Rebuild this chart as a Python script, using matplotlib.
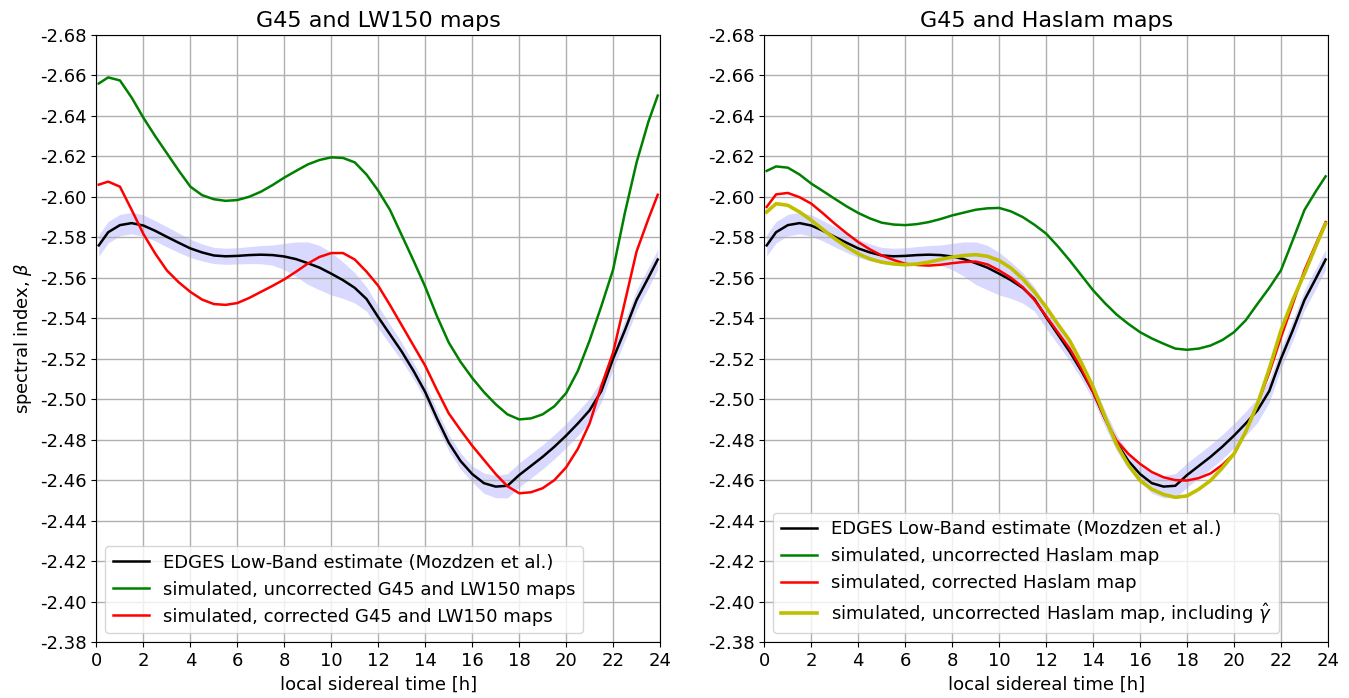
import matplotlib
matplotlib.use("Agg")
import matplotlib.pyplot as plt
import numpy as np

plt.rcParams['axes.unicode_minus'] = False
plt.rcParams['font.size'] = 13

# local sidereal time [h]
lst = [0.1, 0.5, 1, 1.5, 2, 2.5, 3, 3.5, 4, 4.5, 5, 5.5, 6, 6.5, 7, 7.5, 8, 8.5, 9, 9.5,
       10, 10.5, 11, 11.5, 12, 12.5, 13, 13.5, 14, 14.5, 15, 15.5, 16, 16.5, 17, 17.5, 18, 18.5,
       19, 19.5, 20, 20.5, 21, 21.5, 22, 22.5, 23, 23.5, 23.9]

# EDGES Low-Band estimate (Mozdzen et al.) and its uncertainty
edges = [-2.5760, -2.5825, -2.5860, -2.5870, -2.5858, -2.5832, -2.5802, -2.5773, -2.5745, -2.5725,
         -2.5710, -2.5706, -2.5708, -2.5712, -2.5714, -2.5712, -2.5705, -2.5692, -2.5672, -2.5650,
         -2.5620, -2.5588, -2.5550, -2.5495, -2.5405, -2.5320, -2.5235, -2.5140, -2.5035, -2.4905,
         -2.4785, -2.4695, -2.4630, -2.4585, -2.4568, -2.4572, -2.4625, -2.4670, -2.4715, -2.4765,
         -2.4820, -2.4880, -2.4945, -2.5040, -2.5200, -2.5340, -2.5490, -2.5600, -2.5690]
edges_err = [0.0053, 0.0053, 0.0053, 0.0053, 0.0053, 0.0050, 0.0050, 0.0048, 0.0045, 0.0042,
             0.0040, 0.0040, 0.0040, 0.0042, 0.0045, 0.0050, 0.0065, 0.0085, 0.0105, 0.0110,
             0.0105, 0.0090, 0.0075, 0.0060, 0.0055, 0.0050, 0.0045, 0.0040, 0.0040, 0.0040,
             0.0040, 0.0040, 0.0040, 0.0050, 0.0055, 0.0060, 0.0060, 0.0060, 0.0060, 0.0060,
             0.0060, 0.0060, 0.0060, 0.0055, 0.0050, 0.0050, 0.0050, 0.0050, 0.0050]

# G45 and LW150 maps
lw150_uncorr = [-2.6560, -2.6590, -2.6575, -2.6490, -2.6390, -2.6300, -2.6215, -2.6130, -2.6050, -2.6008,
                -2.5988, -2.5980, -2.5984, -2.6000, -2.6025, -2.6058, -2.6095, -2.6128, -2.6160, -2.6182,
                -2.6195, -2.6192, -2.6170, -2.6110, -2.6030, -2.5935, -2.5810, -2.5685, -2.5555, -2.5410,
                -2.5280, -2.5185, -2.5105, -2.5035, -2.4975, -2.4925, -2.4900, -2.4905, -2.4925, -2.4965,
                -2.5030, -2.5140, -2.5290, -2.5460, -2.5640, -2.5920, -2.6170, -2.6370, -2.6500]
lw150_corr = [-2.6060, -2.6075, -2.6050, -2.5935, -2.5816, -2.5720, -2.5636, -2.5578, -2.5530, -2.5492,
              -2.5470, -2.5466, -2.5475, -2.5500, -2.5530, -2.5560, -2.5592, -2.5630, -2.5670, -2.5703,
              -2.5722, -2.5722, -2.5690, -2.5630, -2.5560, -2.5465, -2.5365, -2.5265, -2.5165, -2.5045,
              -2.4930, -2.4848, -2.4770, -2.4700, -2.4630, -2.4570, -2.4535, -2.4540, -2.4560, -2.4600,
              -2.4663, -2.4755, -2.4880, -2.5065, -2.5230, -2.5480, -2.5730, -2.5890, -2.6010]

# G45 and Haslam maps
haslam_uncorr = [-2.6128, -2.6150, -2.6144, -2.6110, -2.6065, -2.6028, -2.5990, -2.5953, -2.5920, -2.5893,
                 -2.5872, -2.5863, -2.5860, -2.5865, -2.5875, -2.5890, -2.5908, -2.5922, -2.5936, -2.5943,
                 -2.5945, -2.5928, -2.5900, -2.5862, -2.5818, -2.5755, -2.5686, -2.5612, -2.5538, -2.5475,
                 -2.5418, -2.5372, -2.5331, -2.5300, -2.5274, -2.5250, -2.5244, -2.5250, -2.5265, -2.5292,
                 -2.5331, -2.5390, -2.5471, -2.5550, -2.5637, -2.5785, -2.5935, -2.6030, -2.6101]
haslam_corr = [-2.5950, -2.6012, -2.6019, -2.5998, -2.5966, -2.5918, -2.5867, -2.5820, -2.5776, -2.5740,
               -2.5710, -2.5688, -2.5669, -2.5663, -2.5660, -2.5664, -2.5672, -2.5678, -2.5680, -2.5666,
               -2.5636, -2.5600, -2.5554, -2.5490, -2.5410, -2.5330, -2.5250, -2.5150, -2.5035, -2.4905,
               -2.4795, -2.4730, -2.4680, -2.4640, -2.4614, -2.4600, -2.4598, -2.4610, -2.4633, -2.4675,
               -2.4730, -2.4840, -2.4977, -2.5130, -2.5306, -2.5470, -2.5637, -2.5770, -2.5875]
haslam_gamma = [-2.5925, -2.5966, -2.5958, -2.5925, -2.5884, -2.5838, -2.5793, -2.5753, -2.5718, -2.5693,
                -2.5677, -2.5668, -2.5664, -2.5668, -2.5677, -2.5690, -2.5702, -2.5710, -2.5714, -2.5706,
                -2.5685, -2.5648, -2.5595, -2.5530, -2.5455, -2.5370, -2.5290, -2.5180, -2.5060, -2.4915,
                -2.4775, -2.4675, -2.4598, -2.4555, -2.4529, -2.4515, -2.4522, -2.4555, -2.4598, -2.4660,
                -2.4730, -2.4840, -2.4977, -2.5150, -2.5340, -2.5490, -2.5620, -2.5760, -2.5867]

yticks = np.round(np.arange(-2.68, -2.375, 0.02), 2)
xticks = np.arange(0, 25, 2)

fig, axs = plt.subplots(1, 2, figsize=(13.49, 6.98), dpi=100)
fig.subplots_adjust(left=0.0715, right=0.9844, bottom=0.0802, top=0.95, wspace=0.185)

lo = np.array(edges) - np.array(edges_err)
hi = np.array(edges) + np.array(edges_err)

for ax in axs:
    ax.fill_between(lst, lo, hi, color="blue", alpha=0.15, linewidth=0)
    ax.plot(lst, edges, color="k", lw=1.8, label="EDGES Low-Band estimate (Mozdzen et al.)")

axs[0].plot(lst, lw150_uncorr, color="g", lw=1.8, label="simulated, uncorrected G45 and LW150 maps")
axs[0].plot(lst, lw150_corr, color="r", lw=1.8, label="simulated, corrected G45 and LW150 maps")
axs[0].set_title("G45 and LW150 maps", fontsize=16)
axs[0].set_ylabel(r"spectral index, $\beta$")

axs[1].plot(lst, haslam_uncorr, color="g", lw=1.8, label="simulated, uncorrected Haslam map")
axs[1].plot(lst, haslam_corr, color="r", lw=1.8, label="simulated, corrected Haslam map")
axs[1].plot(lst, haslam_gamma, color="y", lw=2.6,
            label=r"simulated, uncorrected Haslam map, including $\hat{\gamma}$")
axs[1].set_title("G45 and Haslam maps", fontsize=16)

for ax in axs:
    ax.set_xlim(0, 24)
    ax.set_ylim(-2.38, -2.68)
    ax.set_xticks(xticks)
    ax.set_yticks(yticks)
    ax.set_yticklabels(["%.2f" % v for v in yticks])
    ax.grid(color="#b0b0b0", lw=1)
    ax.set_xlabel("local sidereal time [h]")
    ax.legend(loc="lower left")

fig.savefig("out.png", dpi=100)
